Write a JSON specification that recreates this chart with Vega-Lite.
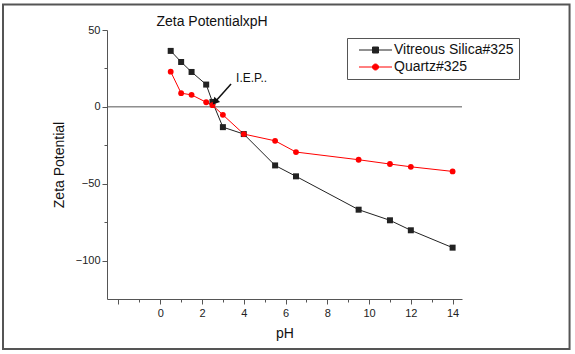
{
  "$schema": "https://vega.github.io/schema/vega-lite/v6.json",
  "width": 355,
  "height": 269,
  "autosize": {"type": "none"},
  "padding": {"left": 107, "top": 30, "right": 113, "bottom": 55},
  "background": "white",
  "config": {
    "font": "Liberation Sans",
    "view": {"stroke": null},
    "axis": {
      "grid": false,
      "domainColor": "#555",
      "tickColor": "#555",
      "labelColor": "#222",
      "labelFont": "Liberation Sans",
      "labelFontSize": 11,
      "labelOverlap": false,
      "titleFont": "Liberation Sans",
      "titleFontSize": 14,
      "titleFontWeight": "normal",
      "titleColor": "#111"
    }
  },
  "datasets": {
    "zeta": [
      {"pH": 0.5, "zeta": 36.4, "sample": "Vitreous Silica#325"},
      {"pH": 1.0, "zeta": 29.2, "sample": "Vitreous Silica#325"},
      {"pH": 1.5, "zeta": 22.7, "sample": "Vitreous Silica#325"},
      {"pH": 2.2, "zeta": 14.5, "sample": "Vitreous Silica#325"},
      {"pH": 2.5, "zeta": 3.2, "sample": "Vitreous Silica#325"},
      {"pH": 3.0, "zeta": -13.2, "sample": "Vitreous Silica#325"},
      {"pH": 4.0, "zeta": -17.7, "sample": "Vitreous Silica#325"},
      {"pH": 5.5, "zeta": -38.1, "sample": "Vitreous Silica#325"},
      {"pH": 6.5, "zeta": -45.2, "sample": "Vitreous Silica#325"},
      {"pH": 9.5, "zeta": -66.9, "sample": "Vitreous Silica#325"},
      {"pH": 11.0, "zeta": -73.8, "sample": "Vitreous Silica#325"},
      {"pH": 12.0, "zeta": -80.3, "sample": "Vitreous Silica#325"},
      {"pH": 14.0, "zeta": -91.6, "sample": "Vitreous Silica#325"},
      {"pH": 0.5, "zeta": 22.9, "sample": "Quartz#325"},
      {"pH": 1.0, "zeta": 8.9, "sample": "Quartz#325"},
      {"pH": 1.5, "zeta": 7.8, "sample": "Quartz#325"},
      {"pH": 2.2, "zeta": 3.0, "sample": "Quartz#325"},
      {"pH": 2.5, "zeta": 1.1, "sample": "Quartz#325"},
      {"pH": 3.0, "zeta": -5.2, "sample": "Quartz#325"},
      {"pH": 4.0, "zeta": -17.7, "sample": "Quartz#325"},
      {"pH": 5.5, "zeta": -22.1, "sample": "Quartz#325"},
      {"pH": 6.5, "zeta": -29.4, "sample": "Quartz#325"},
      {"pH": 9.5, "zeta": -34.4, "sample": "Quartz#325"},
      {"pH": 11.0, "zeta": -37.2, "sample": "Quartz#325"},
      {"pH": 12.0, "zeta": -39.0, "sample": "Quartz#325"},
      {"pH": 14.0, "zeta": -42.0, "sample": "Quartz#325"}
    ],
    "iep": [
      {"pH": 3.39, "zeta": 14.9, "pH2": 2.62, "zeta2": 3.2, "label": "I.E.P.."}
    ]
  },
  "encoding": {
    "x": {
      "type": "quantitative",
      "scale": {"domain": [-2.55, 14.45], "nice": false, "zero": false},
      "axis": {
        "values": [-2, -1, 0, 1, 2, 3, 4, 5, 6, 7, 8, 9, 10, 11, 12, 13, 14],
        "labelExpr": "datum.value >= 0 && datum.value % 2 === 0 ? datum.label : ''",
        "tickSize": {"condition": {"test": "datum.value % 2 === 0", "value": 5}, "value": 3},
        "labelPadding": 3,
        "labelFlush": false,
        "title": "pH",
        "titlePadding": 8
      }
    },
    "y": {
      "type": "quantitative",
      "scale": {"domain": [-125, 50], "nice": false, "zero": false},
      "axis": {
        "values": [-100, -75, -50, -25, 0, 25, 50],
        "labelExpr": "datum.value % 50 === 0 ? datum.label : ''",
        "tickSize": {"condition": {"test": "datum.value % 50 === 0", "value": 5}, "value": 3},
        "labelPadding": 2,
        "labelFlush": false,
        "title": "Zeta Potential",
        "titlePadding": 9
      }
    }
  },
  "layer": [
    {
      "data": {"values": [{}]},
      "mark": {"type": "rect", "fill": null, "stroke": "#555", "strokeWidth": 2, "clip": false},
      "encoding": {
        "x": {"datum": -7.53},
        "x2": {"datum": 19.6},
        "y": {"datum": 66.6},
        "y2": {"datum": -157.6}
      }
    },
    {
      "data": {"values": [{"title": "Zeta PotentialxpH"}]},
      "mark": {"type": "text", "align": "center", "baseline": "middle", "fontSize": 14, "font": "Liberation Sans", "color": "#111", "clip": false},
      "encoding": {
        "x": {"datum": 2.48},
        "y": {"datum": 55.2},
        "text": {"field": "title"}
      }
    },
    {
      "data": {"values": [{}]},
      "mark": {"type": "rule", "color": "#555", "strokeWidth": 1},
      "encoding": {"y": {"datum": 0}}
    },
    {
      "data": {"name": "zeta"},
      "mark": {"type": "line", "strokeWidth": 1, "clip": false},
      "encoding": {
        "x": {"field": "pH", "type": "quantitative"},
        "y": {"field": "zeta", "type": "quantitative"},
        "color": {
          "field": "sample",
          "type": "nominal",
          "scale": {
            "domain": ["Vitreous Silica#325", "Quartz#325"],
            "range": ["#222222", "#ff0000"]
          },
          "legend": {
            "title": null,
            "orient": "none",
            "legendX": 240,
            "legendY": 8,
            "strokeColor": "#555",
            "fillColor": "white",
            "padding": 5,
            "rowPadding": 3,
            "labelFontSize": 14,
            "labelFont": "Liberation Sans",
            "labelColor": "#111",
            "labelOffset": 28,
            "symbolSize": 4,
            "symbolStrokeWidth": 1,
            "encode": {
              "symbols": {
                "update": {
                  "shape": {"signal": "datum.value === 'Quartz#325' ? 'M0,0H33M13.5,0A3,3 0 1,1 19.5,0A3,3 0 1,1 13.5,0Z' : 'M0,0H33M13.5,-3H19.5V3H13.5Z'"},
                  "fill": {"scale": "color", "field": "value"},
                  "stroke": {"scale": "color", "field": "value"},
                  "strokeWidth": {"value": 1},
                  "opacity": {"value": 1}
                }
              }
            }
          }
        },
        "order": {"field": "pH", "type": "quantitative"}
      }
    },
    {
      "data": {"name": "zeta"},
      "transform": [{"filter": "datum.sample === 'Vitreous Silica#325'"}],
      "mark": {"type": "point", "shape": "square", "filled": true, "opacity": 1, "size": 36, "clip": false},
      "encoding": {
        "x": {"field": "pH", "type": "quantitative"},
        "y": {"field": "zeta", "type": "quantitative"},
        "color": {"field": "sample", "type": "nominal"}
      }
    },
    {
      "data": {"name": "zeta"},
      "transform": [{"filter": "datum.sample === 'Quartz#325'"}],
      "mark": {"type": "point", "shape": "circle", "filled": true, "opacity": 1, "size": 34, "clip": false},
      "encoding": {
        "x": {"field": "pH", "type": "quantitative"},
        "y": {"field": "zeta", "type": "quantitative"},
        "color": {"field": "sample", "type": "nominal"}
      }
    },
    {
      "data": {"name": "iep"},
      "mark": {"type": "rule", "color": "#111", "strokeWidth": 1.5},
      "encoding": {
        "x": {"field": "pH", "type": "quantitative"},
        "y": {"field": "zeta", "type": "quantitative"},
        "x2": {"field": "pH2"},
        "y2": {"field": "zeta2"}
      }
    },
    {
      "data": {"name": "iep"},
      "mark": {"type": "point", "shape": "triangle-up", "filled": true, "color": "#111", "opacity": 1, "size": 60, "angle": 222},
      "encoding": {
        "x": {"field": "pH2", "type": "quantitative"},
        "y": {"field": "zeta2", "type": "quantitative"}
      }
    },
    {
      "data": {"name": "iep"},
      "mark": {"type": "text", "align": "left", "baseline": "middle", "fontSize": 12, "font": "Liberation Sans", "color": "#111", "dx": 5, "dy": -6},
      "encoding": {
        "x": {"field": "pH", "type": "quantitative"},
        "y": {"field": "zeta", "type": "quantitative"},
        "text": {"field": "label"}
      }
    }
  ]
}
